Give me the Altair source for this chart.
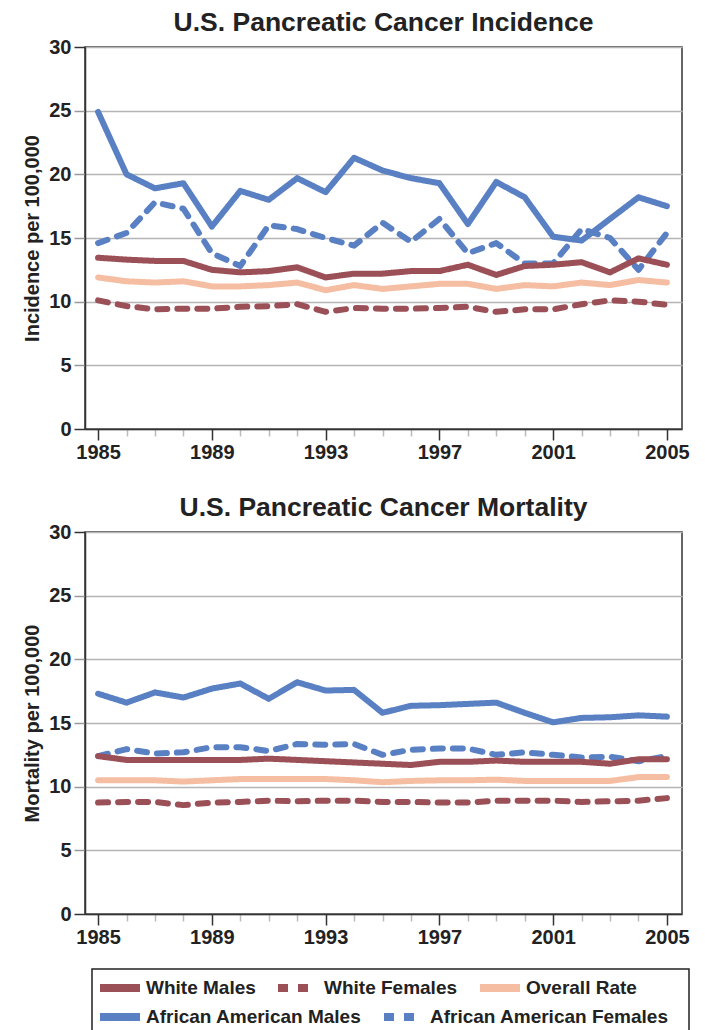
import altair as alt
import pandas as pd

years = list(range(1985, 2006))
white_series = ["White Males", "White Females", "Overall Rate"]
white_colors = ["#9b4f56", "#9b4f56", "#f5bea2"]
white_dashes = [[1, 0], [10, 10], [1, 0]]
aa_series = ["African American Males", "African American Females"]
aa_colors = ["#5a80c4", "#5a80c4"]
aa_dashes = [[1, 0], [10, 10]]

# Incidence per 100,000
wm_inc = [13.45, 13.3, 13.2, 13.2, 12.5, 12.3, 12.4, 12.7, 11.9, 12.2, 12.2,
          12.4, 12.4, 12.9, 12.1, 12.8, 12.9, 13.1, 12.3, 13.4, 12.9]
wf_inc = [10.1, 9.65, 9.4, 9.45, 9.45, 9.6, 9.65, 9.8, 9.2, 9.5, 9.45,
          9.45, 9.5, 9.6, 9.2, 9.4, 9.4, 9.8, 10.1, 10.0, 9.75]
ov_inc = [11.9, 11.6, 11.5, 11.6, 11.2, 11.2, 11.3, 11.5, 10.9, 11.3, 11.0,
          11.2, 11.4, 11.4, 11.0, 11.3, 11.2, 11.5, 11.3, 11.7, 11.5]
aam_inc = [24.9, 20.0, 18.9, 19.3, 15.9, 18.7, 18.0, 19.7, 18.6, 21.3, 20.3,
           19.7, 19.3, 16.1, 19.4, 18.2, 15.1, 14.8, 16.5, 18.2, 17.5]
aaf_inc = [14.6, 15.4, 17.8, 17.3, 13.8, 12.8, 16.0, 15.7, 15.0, 14.4, 16.2,
           14.7, 16.5, 13.8, 14.6, 13.0, 13.0, 15.7, 15.0, 12.5, 15.4]

# Mortality per 100,000
wm_mort = [12.4, 12.1, 12.1, 12.1, 12.1, 12.1, 12.2, 12.1, 12.0, 11.9, 11.8,
           11.7, 11.95, 11.95, 12.05, 11.95, 11.95, 11.95, 11.8, 12.15, 12.15]
wf_mort = [8.75, 8.8, 8.8, 8.55, 8.75, 8.8, 8.9, 8.85, 8.9, 8.9, 8.8,
           8.8, 8.75, 8.75, 8.9, 8.9, 8.9, 8.8, 8.85, 8.9, 9.1]
ov_mort = [10.5, 10.5, 10.5, 10.4, 10.5, 10.6, 10.6, 10.6, 10.6, 10.5, 10.35,
           10.45, 10.5, 10.5, 10.55, 10.45, 10.45, 10.45, 10.45, 10.75, 10.75]
aam_mort = [17.3, 16.6, 17.4, 17.0, 17.7, 18.1, 16.9, 18.2, 17.55, 17.6, 15.8,
            16.35, 16.4, 16.5, 16.6, 15.8, 15.05, 15.4, 15.45, 15.6, 15.5]
aaf_mort = [12.4, 12.95, 12.6, 12.7, 13.1, 13.1, 12.8, 13.35, 13.3, 13.35, 12.5,
            12.9, 13.0, 13.0, 12.5, 12.7, 12.5, 12.3, 12.35, 12.0, 12.4]

y_ticks = [0, 5, 10, 15, 20, 25, 30]

FONT = "Liberation Sans"
W, H = 597, 382


def make_frame(names, arrays):
    rows = []
    for s, vals in zip(names, arrays):
        for yr, v in zip(years, vals):
            rows.append({"year": yr, "value": v, "series": s})
    return pd.DataFrame(rows)


major = "(datum.value - 1985) % 4 == 0"


def legend_for(show, lx, ly):
    if not show:
        return None
    return alt.Legend(
        title=None, orient="none", legendX=lx, legendY=ly, direction="horizontal",
        symbolType="stroke", symbolSize=1600, symbolStrokeWidth=8,
        labelFont=FONT, labelFontSize=19, labelFontWeight="bold", labelColor="#222",
        labelOffset=2, columnPadding=6, padding=0, labelLimit=400,
    )


def layer(df, names, colors, dashes, show_legend, lx, ly, ytitle):
    lg = legend_for(show_legend, lx, ly)
    return alt.Chart(df).mark_line(
        strokeWidth=6, strokeCap="round", strokeJoin="round"
    ).encode(
        x=alt.X("year:Q",
                scale=alt.Scale(domain=[1984.54, 2005.53], nice=False, zero=False),
                axis=alt.Axis(values=years, format="d", labelExpr=f"{major} ? datum.label : ''",
                              tickColor={"condition": {"test": major, "value": "#333"}, "value": "#bbb"},
                              tickSize={"condition": {"test": major, "value": 11}, "value": 7},
                              labelFlush=False, labelOverlap=False, grid=False, labelPadding=2),
                title=None),
        y=alt.Y("value:Q", scale=alt.Scale(domain=[0, 30], nice=False),
                axis=alt.Axis(values=y_ticks, tickSize=11, labelPadding=3, titlePadding=6,
                              tickColor={"condition": {"test": "datum.value == 0 || datum.value == 30", "value": "#333"}, "value": "#999"}),
                title=ytitle),
        color=alt.Color("series:N", scale=alt.Scale(domain=names, range=colors), legend=lg),
        strokeDash=alt.StrokeDash("series:N", scale=alt.Scale(domain=names, range=dashes), legend=lg),
    )


def panel(aa_df, wh_df, title, ytitle, show_legend):
    layers = [
        layer(aa_df, aa_series, aa_colors, aa_dashes, show_legend, 11, H + 79, ytitle),
        layer(wh_df, white_series, white_colors, white_dashes, show_legend, 11, H + 50, ytitle),
    ]
    if show_legend:
        box = alt.Chart(pd.DataFrame({"b": [0]})).mark_rect(
            fill="transparent", stroke="#222", strokeWidth=1.5
        ).encode(
            x=alt.value(7), x2=alt.value(604), y=alt.value(H + 55), y2=alt.value(H + 125)
        )
        layers.append(box)
    return alt.layer(*layers, title=title).resolve_scale(
        color="independent", strokeDash="independent"
    ).properties(width=W, height=H)


inc_aa = make_frame(aa_series, [aam_inc, aaf_inc])
inc_wh = make_frame(white_series, [wm_inc, wf_inc, ov_inc])
mort_aa = make_frame(aa_series, [aam_mort, aaf_mort])
mort_wh = make_frame(white_series, [wm_mort, wf_mort, ov_mort])

top = panel(inc_aa, inc_wh, "U.S. Pancreatic Cancer Incidence", "Incidence per 100,000", False)
bottom = panel(mort_aa, mort_wh, "U.S. Pancreatic Cancer Mortality", "Mortality per 100,000", True)

chart = alt.vconcat(top, bottom, spacing=30).resolve_scale(
    color="independent", strokeDash="independent"
).properties(
    padding={"left": 14, "top": 0, "right": 5, "bottom": 5}
).configure_view(
    stroke="#333", strokeWidth=1.5
).configure_axis(
    labelFont=FONT, labelFontSize=20, labelFontWeight="bold", labelColor="#222",
    titleFont=FONT, titleFontSize=20, titleFontWeight="bold", titleColor="#222",
    gridColor="#b5b5b5", gridWidth=1.5, domainColor="#333", domainWidth=1.5,
    tickWidth=1.5,
).configure_title(
    font=FONT, fontSize=26.5, fontWeight="bold", color="#222", anchor="middle", offset=1
)

chart.save("out.html", embed_options={"renderer": "svg", "actions": False})
